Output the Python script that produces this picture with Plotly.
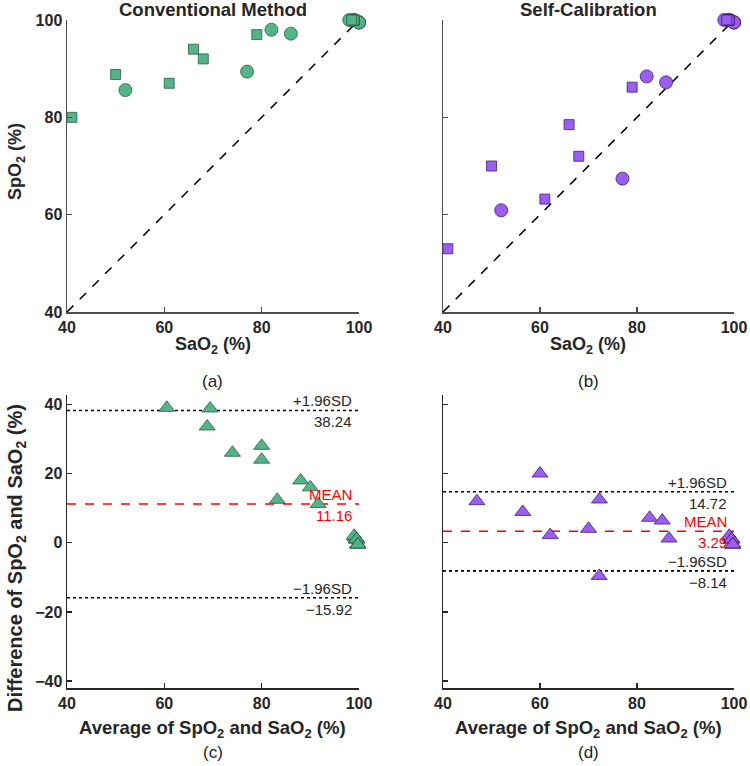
import plotly.graph_objects as go
import numpy as np

# ---------------- data ----------------
# Squares (one group of subjects)
sq_sao2 = [41, 50, 61, 66, 68, 79, 99, 99, 99, 99, 98.5]
sq_spo2_conv = [80, 88.8, 87, 94, 92, 97, 100, 100, 100, 100, 100]
sq_spo2_self = [53, 70, 63.2, 78.5, 72, 86.2, 100, 100, 100, 100, 100]
# Circles (other group)
ci_sao2 = [52, 77, 82, 86, 98, 99, 99, 100, 100, 100, 100]
ci_spo2_conv = [85.6, 89.4, 98, 97.2, 100, 100, 100, 99.5, 99.5, 99.5, 99.5]
ci_spo2_self = [60.9, 67.4, 88.4, 87.2, 100, 100, 100, 99.5, 99.5, 99.5, 99.5]

# Bland-Altman limits
conv_limits = {"upper": 38.24, "mean": 11.16, "lower": -15.92}
self_limits = {"upper": 14.72, "mean": 3.29, "lower": -8.14}

x_ticks = [40, 60, 80, 100]
y_ticks_top = [40, 60, 80, 100]
y_ticks_bot = [-40, -20, 0, 20, 40]

GREEN = "#52b587"
GREEN_E = "#2d5c45"
PURPLE = "#9b5df2"
PURPLE_E = "#40226e"
FONT = "Liberation Sans, Arial"
TXT = "#262626"

W, H = 750, 766
def px(x):
    return x / W
def py(y):
    return 1 - y / H

fig = go.Figure()

def scatter_top(xa, ya, sao2_s, spo2_s, sao2_c, spo2_c, col, ecol):
    fig.add_trace(go.Scatter(x=[40, 100], y=[40, 100], mode="lines",
                             line=dict(color="black", dash="dash", width=1.5),
                             xaxis=xa, yaxis=ya, hoverinfo="skip"))
    fig.add_trace(go.Scatter(x=sao2_c, y=spo2_c, mode="markers", cliponaxis=False,
                             marker=dict(symbol="circle", size=13, color=col,
                                         line=dict(color=ecol, width=0.8)),
                             xaxis=xa, yaxis=ya))
    fig.add_trace(go.Scatter(x=sao2_s, y=spo2_s, mode="markers", cliponaxis=False,
                             marker=dict(symbol="square", size=10, color=col,
                                         line=dict(color=ecol, width=0.8)),
                             xaxis=xa, yaxis=ya))

scatter_top("x", "y", sq_sao2, sq_spo2_conv, ci_sao2, ci_spo2_conv, GREEN, GREEN_E)
scatter_top("x2", "y2", sq_sao2, sq_spo2_self, ci_sao2, ci_spo2_self, PURPLE, PURPLE_E)

def bland(xa, ya, spo2_s, spo2_c, lim, col, ecol):
    sao2 = np.array(sq_sao2 + ci_sao2, dtype=float)
    spo2 = np.array(spo2_s + spo2_c, dtype=float)
    avg = (sao2 + spo2) / 2
    diff = spo2 - sao2
    for key, dash, c in [("upper", "dot", "black"), ("lower", "dot", "black"), ("mean", "dash", "red")]:
        fig.add_trace(go.Scatter(x=[40, 100], y=[lim[key], lim[key]], mode="lines",
                                 line=dict(color=c, dash=dash, width=1.5 if c == "red" else 1.6),
                                 xaxis=xa, yaxis=ya, hoverinfo="skip"))
    fig.add_trace(go.Scatter(x=avg, y=diff, mode="markers", cliponaxis=False,
                             marker=dict(symbol="triangle-up", size=14, color=col,
                                         line=dict(color=ecol, width=0.8)),
                             xaxis=xa, yaxis=ya))
    labels = [("upper", "+1.96SD", f"{lim['upper']:.2f}", TXT),
              ("mean", "MEAN", f"{lim['mean']:.2f}", "red"),
              ("lower", "\u22121.96SD", f"{lim['lower']:.2f}".replace("-", "\u2212"), TXT)]
    for key, above, below, c in labels:
        fig.add_annotation(x=98.9, y=lim[key], xref=xa, yref=ya, text=above,
                           showarrow=False, xanchor="right", yanchor="bottom", yshift=-1,
                           font=dict(family=FONT, size=15, color=c))
        fig.add_annotation(x=98.9, y=lim[key], xref=xa, yref=ya, text=below,
                           showarrow=False, xanchor="right", yanchor="top", yshift=-1,
                           font=dict(family=FONT, size=15, color=c))

bland("x3", "y3", sq_spo2_conv, ci_spo2_conv, conv_limits, GREEN, GREEN_E)
bland("x4", "y4", sq_spo2_self, ci_spo2_self, self_limits, PURPLE, PURPLE_E)

left_dom = [px(67), px(359)]
right_dom = [px(443), px(734)]
top_dom = [py(312), py(20)]
bot_dom = [py(688), py(395)]

def axis(dom, rng, tickvals, anchor, showlabels=True, color="#4d4d4d"):
    return dict(domain=dom, range=rng, tickvals=tickvals, anchor=anchor, automargin=False,
                showgrid=False, zeroline=False, showline=True, linecolor=color, linewidth=1.5,
                ticks="inside", ticklen=5, tickcolor=color, tickwidth=1.2,
                showticklabels=showlabels,
                tickfont=dict(family=FONT, size=16, color=TXT, weight="bold"))

fig.update_layout(
    width=W, height=H, margin=dict(l=0, r=0, t=0, b=0, autoexpand=False),
    paper_bgcolor="white", plot_bgcolor="white", showlegend=False, hovermode=False,
    xaxis=axis(left_dom, [40, 100], x_ticks, "y"),
    yaxis=axis(top_dom, [40, 100], y_ticks_top, "x"),
    xaxis2=axis(right_dom, [40, 100], x_ticks, "y2"),
    yaxis2=axis(top_dom, [40, 100], y_ticks_top, "x2", showlabels=False),
    xaxis3=axis(left_dom, [40, 100], x_ticks, "y3", color="#262626"),
    yaxis3=axis(bot_dom, [-42, 42.7], y_ticks_bot, "x3", color="#262626"),
    xaxis4=axis(right_dom, [40, 100], x_ticks, "y4", color="#262626"),
    yaxis4=axis(bot_dom, [-42, 42.7], y_ticks_bot, "x4", showlabels=False, color="#262626"),
)

def ann(x, y, text, size, bold=True, angle=0):
    fig.add_annotation(x=px(x), y=py(y), xref="paper", yref="paper", text=text,
                       showarrow=False, textangle=angle, xanchor="center", yanchor="middle",
                       font=dict(family=FONT, size=size, color=TXT if bold else "#222",
                                 weight="bold" if bold else "normal"))

ann(213, 9, "Conventional Method", 18.5)
ann(588, 9, "Self-Calibration", 18.5)
ann(213, 346, "SaO<sub>2</sub> (%)", 18)
ann(588, 346, "SaO<sub>2</sub> (%)", 18)
ann(16, 162, "SpO<sub>2</sub> (%)", 18, angle=-90)
ann(16, 558, "Difference of SpO<sub>2</sub> and SaO<sub>2</sub> (%)", 20, angle=-90)
ann(213, 729, "Average of SpO<sub>2</sub> and SaO<sub>2</sub> (%)", 18.5)
ann(588, 729, "Average of SpO<sub>2</sub> and SaO<sub>2</sub> (%)", 18.5)
ann(213, 381, "(a)", 17, bold=False)
ann(588, 381, "(b)", 17, bold=False)
ann(213, 752, "(c)", 17, bold=False)
ann(588, 752, "(d)", 17, bold=False)

fig.write_html("out.html", config={"displayModeBar": False, "staticPlot": True},
               post_script="document.body.style.margin='0';document.body.style.overflow='hidden';")
